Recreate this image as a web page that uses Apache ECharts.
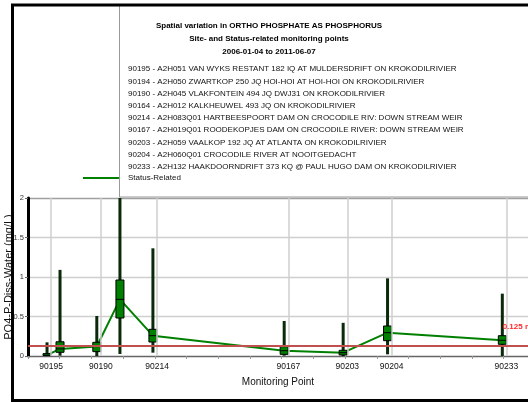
<!DOCTYPE html>
<html><head><meta charset="utf-8">
<script src="https://cdn.jsdelivr.net/npm/echarts@6/dist/echarts.min.js"></script>
<style>html,body{margin:0;padding:0;background:#fff}#c{width:528px;height:402px}</style>
</head><body><div id="c"></div>
<script>
// ---------- data ----------
const titleLines = [
  'Spatial variation in ORTHO PHOSPHATE AS PHOSPHORUS',
  'Site- and Status-related monitoring points',
  '2006-01-04 to 2011-06-07'
];
const siteDescriptions = [
  '90195 - A2H051 VAN WYKS RESTANT 182 IQ AT MULDERSDRIFT ON KROKODILRIVIER',
  '90194 - A2H050 ZWARTKOP 250 JQ HOI-HOI AT HOI-HOI ON KROKODILRIVIER',
  '90190 - A2H045 VLAKFONTEIN 494 JQ DWJ31 ON KROKODILRIVIER',
  '90164 - A2H012 KALKHEUWEL 493 JQ ON KROKODILRIVIER',
  '90214 - A2H083Q01 HARTBEESPOORT DAM ON CROCODILE RIV: DOWN STREAM WEIR',
  '90167 - A2H019Q01 ROODEKOPJES DAM ON CROCODILE RIVER: DOWN STREAM WEIR',
  '90203 - A2H059 VAALKOP 192 JQ AT ATLANTA ON KROKODILRIVIER',
  '90204 - A2H060Q01 CROCODILE RIVER AT NOOITGEDACHT',
  '90233 - A2H132 HAAKDOORNDRIFT 373 KQ @ PAUL HUGO DAM ON KROKODILRIVIER'
];
const seriesName = 'Status-Related';
const siteIds = ['90195','90194','90190','90164','90214','90167','90203','90204','90233'];
const siteKm  = [7.3, 11.4, 23.0, 30.3, 40.7, 82.1, 100.7, 114.7, 150.9];
const labelledSites = ['90195','90190','90214','90167','90203','90204','90233'];
const minVals = [0.004, 0.004, 0.0,   0.025, 0.042, 0.004, 0.0,   0.021, 0.0];
const q1Vals  = [0.005, 0.047, 0.055, 0.481, 0.177, 0.021, 0.013, 0.194, 0.148];
const medVals = [0.01,  0.09,  0.12,  0.717, 0.257, 0.067, 0.042, 0.295, 0.199];
const q3Vals  = [0.03,  0.18,  0.173, 0.962, 0.338, 0.118, 0.072, 0.38,  0.257];
const maxVals = [0.173, 1.09,  0.506, 2.4,   1.363, 0.443, 0.42,  0.983, 0.789];
const guideline = 0.125;
const guidelineLabel = '0.125 mg/L';
const yMin = 0, yMax = 2, yStep = 0.5;
const xMin = 0, xMax = 157.7, xStep = 10;
const xName = 'Monitoring Point';
const yName = 'PO4-P-Diss-Water (mg/L)';

// ---------- style ----------
const boxShift = -1.3;
const boxW = 8, whiskerW = 3;
const SANS = '"Liberation Sans",Arial,sans-serif';

const boxData = siteIds.map((id, i) => [siteKm[i] + boxShift, minVals[i], q1Vals[i], medVals[i], q3Vals[i], maxVals[i]]);
const lineData = siteIds.map((id, i) => [siteKm[i] + boxShift, medVals[i]]);
const labelledKm = labelledSites.map(id => siteKm[siteIds.indexOf(id)]);

const chart = echarts.init(document.getElementById('c'), null, {renderer: 'canvas'});
chart.setOption({
  animation: false,
  backgroundColor: '#fff',
  title: [
    {text: titleLines.join('\n'), left: 269, top: 19, textAlign: 'center', z: 10, padding: 0,
     textStyle: {fontFamily: SANS, fontSize: 8, fontWeight: 'bold', color: '#000', lineHeight: 13}},
    {text: siteDescriptions.join('\n'), left: 128, top: 63, z: 10, padding: 0,
     textStyle: {fontFamily: SANS, fontSize: 8, fontWeight: 'normal', color: '#111', lineHeight: 12.2}}
  ],
  legend: {
    data: [{name: seriesName, icon: 'rect'}], left: 83, top: 174, itemWidth: 36, itemHeight: 2, z: 10, padding: 0,
    textStyle: {fontFamily: SANS, fontSize: 8, color: '#111', padding: [0,0,0,4]}
  },
  grid: {left: 28, right: 0, top: 198, bottom: 46, outerBoundsMode: 'none', containLabel: false},
  xAxis: {
    type: 'value', min: xMin, max: xMax, interval: xStep,
    name: xName, nameLocation: 'middle', nameGap: 21, nameMoveOverlap: false,
    nameTextStyle: {fontFamily: SANS, fontSize: 10, color: '#111'},
    axisLine: {show: true, lineStyle: {color: '#666', width: 1}},
    axisTick: {show: true, length: 3, lineStyle: {color: '#999'}},
    axisLabel: {customValues: labelledKm, formatter: v => siteIds[siteKm.indexOf(v)] || '',
      fontFamily: SANS, fontSize: 8.5, color: '#111', margin: 6},
    splitLine: {show: false}
  },
  yAxis: {
    type: 'value', min: yMin, max: yMax, interval: yStep,
    name: yName, nameLocation: 'middle', nameGap: 14, nameMoveOverlap: false,
    nameTextStyle: {fontFamily: SANS, fontSize: 11, color: '#111'},
    axisLine: {show: true, lineStyle: {color: '#000', width: 3}},
    axisTick: {show: true, length: 3, lineStyle: {color: '#666'}},
    axisLabel: {fontFamily: SANS, fontSize: 7.5, color: '#333', margin: 4,
      formatter: v => String(v)},
    splitLine: {show: true, lineStyle: {color: ['#666', '#cfcfcf', '#cfcfcf', '#cfcfcf', '#a0a0a0'], width: 1.3}}
  },
  graphic: [
    {type: 'rect', z: 1, silent: true, shape: {x: 119.5, y: 5, width: 500, height: 192}, style: {fill: '#fff', stroke: '#999', lineWidth: 1}},
    {type: 'rect', z: 2, silent: true, shape: {x: 12.5, y: 5, width: 600, height: 395.5}, style: {fill: 'none', stroke: '#000', lineWidth: 3}}
  ],
  series: [
    {type: 'line', name: 'grid', data: [], z: 1, silent: true,
     markLine: {silent: true, symbol: 'none', label: {show: false},
       lineStyle: {color: '#cfcfcf', width: 1.5, type: 'solid'},
       data: labelledKm.map(v => ({xAxis: v}))}},
    {type: 'line', name: seriesName, data: lineData, z: 2, symbol: 'none',
     lineStyle: {color: '#008000', width: 2}, itemStyle: {color: '#008000'}},
    {type: 'custom', name: 'box', data: boxData, z: 3,
     renderItem: (params, api) => {
       const cs = params.coordSys;
       const x = api.value(0);
       const pMin = api.coord([x, api.value(1)]);
       const pQ1 = api.coord([x, api.value(2)]);
       const pMed = api.coord([x, api.value(3)]);
       const pQ3 = api.coord([x, api.value(4)]);
       const pMax = api.coord([x, api.value(5)]);
       const top = Math.max(pMax[1], cs.y);
       const cx = pMed[0];
       return {type: 'group', children: [
         {type: 'rect', shape: {x: cx - whiskerW / 2, y: top, width: whiskerW, height: pMin[1] - top}, style: {fill: '#0b2a0b'}},
         {type: 'rect', shape: {x: cx - boxW / 2, y: pQ3[1], width: boxW, height: Math.max(pQ1[1] - pQ3[1], 1)}, style: {fill: '#008000', stroke: '#000', lineWidth: 1}},
         {type: 'line', shape: {x1: cx - boxW / 2, y1: pMed[1], x2: cx + boxW / 2, y2: pMed[1]}, style: {stroke: '#000', lineWidth: 1}}
       ]};
     }},
    {type: 'line', name: 'guide', data: [], z: 4, silent: true,
     markLine: {silent: true, symbol: 'none',
       lineStyle: {color: '#c0504d', width: 2, type: 'solid'},
       label: {show: true, position: 'insideEndTop', distance: [-16, 15], formatter: guidelineLabel,
         color: '#ff2a2a', fontFamily: SANS, fontSize: 8, fontWeight: 'bold'},
       data: [{yAxis: guideline}]}}
  ]
});
</script></body></html>
